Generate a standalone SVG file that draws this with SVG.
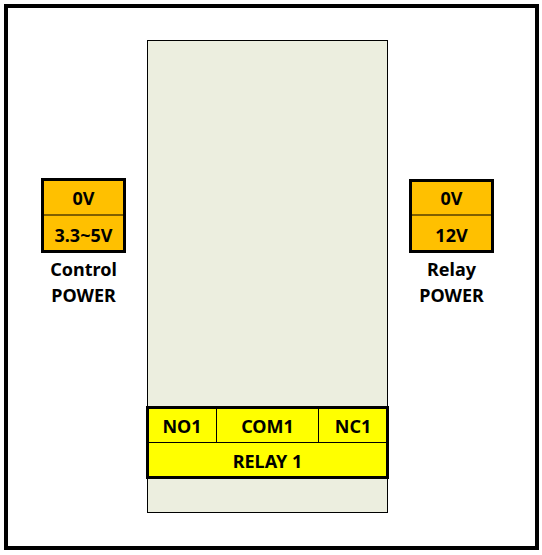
<svg xmlns="http://www.w3.org/2000/svg" width="542" height="555" viewBox="0 0 542 555">
<style>
.t{font-family:"Noto Sans","Liberation Sans",sans-serif;font-weight:bold;font-size:18px;fill:#000;text-anchor:middle;dominant-baseline:central}
.pw{fill:#FFC000;stroke:#000;stroke-width:3}
.rl{fill:#FFFF00;stroke:#000}
</style>
<rect x="0" y="0" width="542" height="555" fill="#fff"/>
<rect x="6" y="6" width="531" height="542" fill="none" stroke="#000" stroke-width="4"/>
<g id="board">
<rect x="147.5" y="40.5" width="240" height="472" fill="#ECEEDF" stroke="#000" stroke-width="1"/>
</g>
<g id="control-power">
<rect class="pw" x="42.5" y="179.5" width="82" height="72"/>
<line x1="42.5" y1="215" x2="124.5" y2="215" stroke="#000" stroke-width="1"/>
<text class="t" x="83.5" y="198">0V</text>
<text class="t" x="83.5" y="235">3.3~5V</text>
<text class="t" x="83.5" y="269">Control</text>
<text class="t" x="83.5" y="295">POWER</text>
</g>
<g id="relay-power">
<rect class="pw" x="410.5" y="180.5" width="82" height="71"/>
<line x1="410.5" y1="215" x2="492.5" y2="215" stroke="#000" stroke-width="1"/>
<text class="t" x="451.5" y="198">0V</text>
<text class="t" x="451.5" y="235">12V</text>
<text class="t" x="451.5" y="269">Relay</text>
<text class="t" x="451.5" y="295">POWER</text>
</g>
<g id="relay1">
<rect class="rl" x="147.5" y="407.5" width="240" height="70" stroke-width="3"/>
<line x1="147.5" y1="442.5" x2="387.5" y2="442.5" stroke="#000" stroke-width="1"/>
<line x1="216.5" y1="407.5" x2="216.5" y2="442.5" stroke="#000" stroke-width="1"/>
<line x1="318.5" y1="407.5" x2="318.5" y2="442.5" stroke="#000" stroke-width="1"/>
<text class="t" x="182" y="426">NO1</text>
<text class="t" x="267.5" y="426">COM1</text>
<text class="t" x="353" y="426">NC1</text>
<text class="t" x="267.5" y="461">RELAY 1</text>
</g>
<g id="connectors"></g>
</svg>
